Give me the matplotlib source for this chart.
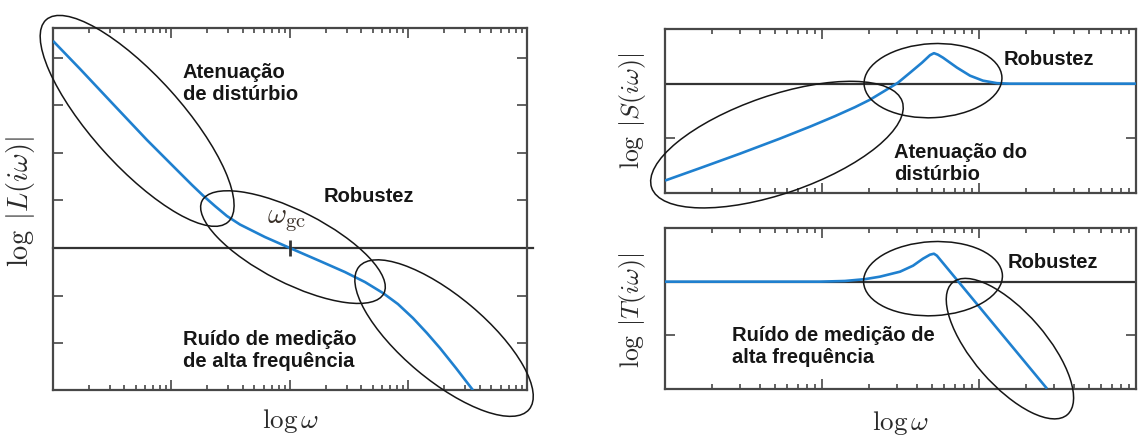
import matplotlib
matplotlib.use("Agg")
import matplotlib.pyplot as plt
import numpy as np
from matplotlib.patches import Ellipse
from matplotlib.transforms import ScaledTranslation
from matplotlib.ticker import LogLocator, NullFormatter, FixedLocator

plt.rcParams['mathtext.fontset'] = 'cm'

# Loop gain |L(iw)|: log10 frequency vs log10 magnitude
L_logw = [-2.000, -1.772, -1.494, -1.207, -0.954, -0.827, -0.734, -0.633, -0.532, -0.422, -0.211,
          0.000, 0.253, 0.464, 0.633, 0.785, 0.911, 1.038, 1.156, 1.266, 1.401, 1.544]
L_logmag = [4.349, 3.761, 3.025, 2.269, 1.639, 1.324, 1.103, 0.882, 0.672, 0.494, 0.231,
            0.000, -0.273, -0.504, -0.714, -0.945, -1.176, -1.471, -1.786, -2.101, -2.521, -2.983]

# Sensitivity |S(iw)|
S_logw = [0.000, 0.223, 0.478, 0.732, 0.924, 1.083, 1.210, 1.306, 1.401, 1.484, 1.561,
          1.637, 1.688, 1.713, 1.739, 1.771, 1.860, 1.943, 2.025, 2.115, 2.197, 3.000]
S_logmag = [-1.773, -1.545, -1.280, -1.005, -0.786, -0.594, -0.430, -0.293, -0.128, 0.018, 0.201,
            0.384, 0.521, 0.558, 0.530, 0.475, 0.293, 0.146, 0.055, 0.009, 0.000, 0.000]

# Complementary sensitivity |T(iw)|
T_logw = [0.000, 0.987, 1.146, 1.274, 1.369, 1.497, 1.580, 1.643, 1.688, 1.713, 1.732, 2.433]
T_logmag = [0.000, 0.000, 0.013, 0.047, 0.093, 0.186, 0.298, 0.428, 0.503, 0.521, 0.484, -1.993]

BLUE = '#1f80cf'
INK = '#161616'
AXC = '#474747'
LBL = '#2a2a2a'
TXT = dict(family='Liberation Sans', weight='bold', size=14.5, color=INK)

fig = plt.figure(figsize=(11.38, 4.37), dpi=100)
axL = fig.add_axes([0.04657, 0.10755, 0.41652, 0.82838])
axS = fig.add_axes([0.58436, 0.55835, 0.41388, 0.37529])
axT = fig.add_axes([0.58436, 0.10984, 0.41388, 0.36842])


def style(ax, xlim, ylim, yticks):
    ax.set_xscale('log')
    ax.set_xlim(*xlim)
    ax.set_ylim(*ylim)
    ax.yaxis.set_major_locator(FixedLocator(yticks))
    ax.xaxis.set_major_locator(LogLocator(base=10, numticks=20))
    ax.xaxis.set_minor_locator(LogLocator(base=10, subs=np.arange(2, 10), numticks=100))
    ax.xaxis.set_major_formatter(NullFormatter())
    ax.xaxis.set_minor_formatter(NullFormatter())
    ax.yaxis.set_major_formatter(NullFormatter())
    ax.tick_params(which='both', direction='in', top=True, right=True,
                   color=AXC, width=1.2)
    ax.tick_params(which='major', length=7.5)
    ax.tick_params(which='minor', length=3.5)
    for s in ax.spines.values():
        s.set_linewidth(1.6)
        s.set_color(AXC)


def ring(ax, logw, logm, w_in, h_in, angle):
    tr = fig.dpi_scale_trans + ScaledTranslation(10 ** logw, logm, ax.transData)
    ax.add_patch(Ellipse((0, 0), w_in, h_in, angle=angle, transform=tr,
                         fill=False, ec=INK, lw=1.1, clip_on=False, zorder=4))


def curve(ax, logw, logm):
    ax.plot(10 ** np.array(logw), logm, color=BLUE, lw=1.9, zorder=3,
            solid_joinstyle='round', solid_capstyle='butt')


# ---- left: loop transfer function
style(axL, (1e-2, 1e2), (-2.98, 4.62), [-2, -1, 0, 1, 2, 3, 4])
axL.plot([0, 1.012], [0, 0], transform=axL.get_yaxis_transform(), color='#333333',
         lw=1.6, clip_on=False, zorder=2)
curve(axL, L_logw, L_logmag)
axL.plot([1.0], [0.0], marker='|', ms=12, mew=2, color='#333333', zorder=3)
axL.text(0.452, 0.461, r'$\omega_{\rm gc}$', transform=axL.transAxes, fontsize=21,
         color='#3a3028', va='baseline', ha='left')
ring(axL, -1.29, 2.67, 2.72, 0.90, -48)
ring(axL, 0.025, 0.02, 2.04, 0.72, -27)
ring(axL, 1.30, -1.89, 2.22, 0.84, -40)
axL.text(0.274, 0.903, 'Atenuação\nde distúrbio', transform=axL.transAxes, va='top', **TXT)
axL.text(0.570, 0.561, 'Robustez', transform=axL.transAxes, va='top', **TXT)
axL.text(0.274, 0.166, 'Ruído de medição\nde alta frequência', transform=axL.transAxes,
         va='top', **TXT)
axL.set_ylabel(r'$\log\;|L(i\omega)|$', fontsize=20.5, color=LBL)
axL.yaxis.set_label_coords(-0.034, 0.52)
axL.set_xlabel(r'$\log\omega$', fontsize=19.5, color=LBL)
axL.xaxis.set_label_coords(0.5, -0.046)

# ---- right top: sensitivity
style(axS, (1, 1e3), (-2.0, 1.0), [-1, 0])
axS.axhline(0, color='#333333', lw=1.6, zorder=2)
curve(axS, S_logw, S_logmag)
ring(axS, 0.713, -1.115, 2.65, 0.98, 19)
ring(axS, 1.707, 0.055, 1.38, 0.74, 3)
axS.text(0.720, 0.872, 'Robustez', transform=axS.transAxes, va='top', **TXT)
axS.text(0.486, 0.305, 'Atenuação do\ndistúrbio', transform=axS.transAxes, va='top', **TXT)
axS.set_ylabel(r'$\log\;|S(i\omega)|$', fontsize=18.5, color=LBL)
axS.yaxis.set_label_coords(-0.036, 0.5)

# ---- right bottom: complementary sensitivity
style(axT, (1, 1e3), (-2.0, 1.0), [-1, 0])
axT.axhline(0, color='#333333', lw=1.6, zorder=2)
curve(axT, T_logw, T_logmag)
ring(axT, 1.707, 0.056, 1.39, 0.74, 3)
ring(axT, 2.197, -1.248, 1.75, 0.73, -49)
axT.text(0.728, 0.845, 'Robustez', transform=axT.transAxes, va='top', **TXT)
axT.text(0.142, 0.391, 'Ruído de medição de\nalta frequência', transform=axT.transAxes,
         va='top', **TXT)
axT.set_ylabel(r'$\log\;|T(i\omega)|$', fontsize=18.5, color=LBL)
axT.yaxis.set_label_coords(-0.036, 0.49)
axT.set_xlabel(r'$\log\omega$', fontsize=19.5, color=LBL)
axT.xaxis.set_label_coords(0.5, -0.125)

fig.savefig('out.png', dpi=100)
